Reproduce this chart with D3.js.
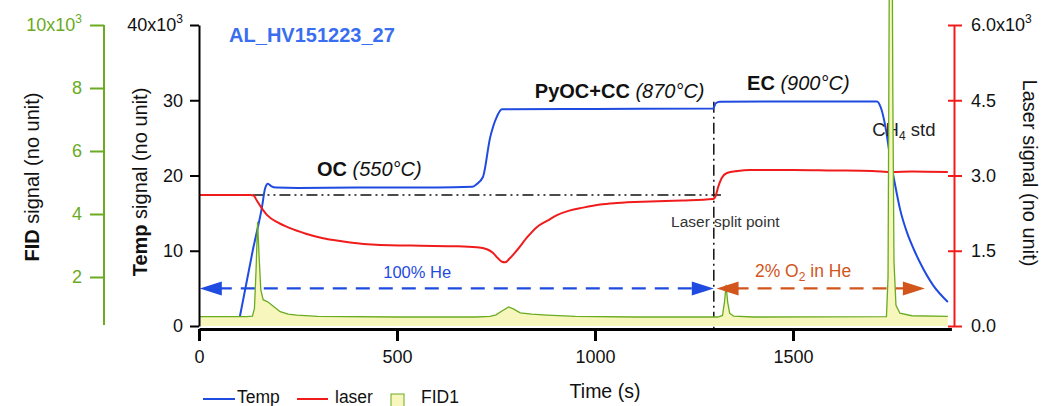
<!DOCTYPE html>
<html>
<head>
<meta charset="utf-8">
<script src="https://cdn.jsdelivr.net/npm/d3@7/dist/d3.min.js"></script>
<style>
  body { margin: 0; background: #fff; }
  svg { font-family: "Liberation Sans", Arial, sans-serif; }
</style>
</head>
<body>
<div id="chart"></div>
<script>
// time (s), value in thousands
let temp = [[103,1.2],[136,10.1],[159,15.8],[167,18.3],[174,18.9],[182,18.6],[195,18.4],[250,18.35],[400,18.4],[600,18.4],[690,18.5],[700,18.8],[717,19.8],[735,25],[752,27.8],[765,28.8],[1000,28.85],[1298,28.9],[1305,29.6],[1315,29.8],[1500,29.85],[1712,29.85],[1722,29.0],[1735,26.0],[1745,22.5],[1758,18.7],[1770,15.6],[1788,12.4],[1805,10.2],[1821,8.4],[1854,5.4],[1891,3.2]];
let laser = [[0,2.61],[130,2.61],[138,2.6],[146,2.5],[160,2.33],[172,2.21],[200,2.06],[230,1.95],[270,1.84],[313,1.75],[360,1.69],[399,1.65],[482,1.61],[560,1.6],[652,1.59],[700,1.57],[727,1.53],[742,1.46],[755,1.35],[765,1.28],[773,1.27],[785,1.35],[803,1.51],[830,1.78],[853,1.97],[880,2.1],[904,2.21],[935,2.3],[970,2.36],[1013,2.42],[1055,2.45],[1139,2.48],[1220,2.5],[1298,2.53],[1305,2.6],[1311,2.77],[1320,2.95],[1333,3.05],[1360,3.09],[1391,3.11],[1500,3.11],[1600,3.1],[1700,3.09],[1750,3.07],[1800,3.08],[1891,3.07]];
let fid = [[0,0.74],[120,0.74],[135,0.76],[140,1.0],[144,2.2],[148,3.75],[152,2.6],[156,1.6],[162,1.28],[175,1.2],[190,1.05],[205,0.9],[225,0.82],[247,0.79],[300,0.75],[500,0.73],[700,0.73],[735,0.75],[750,0.8],[765,0.92],[782,1.05],[795,0.98],[811,0.86],[840,0.82],[879,0.79],[950,0.75],[1100,0.73],[1310,0.73],[1322,0.78],[1327,1.2],[1331,1.75],[1335,1.2],[1340,0.85],[1350,0.76],[1400,0.73],[1736,0.74],[1740,2],[1742,8],[1744,14],[1750,14],[1752,8],[1755,2.5],[1760,1.1],[1770,0.85],[1800,0.77],[1891,0.75]];

let tempTicks = [0,10,20,30,40];
let laserTicks = [0,1.5,3,4.5,6];
let fidTicks = [2,4,6,8,10];
let timeTicks = [0,500,1000,1500];
let splitTime = 1300;
let splitLaser = 2.61;

let w = 1048, h = 406;
let svg = d3.select("#chart").append("svg").attr("width", w).attr("height", h);

let x = d3.scaleLinear().domain([0,1900]).range([199,951.4]);
let yT = d3.scaleLinear().domain([0,40]).range([326,25]);
let yL = d3.scaleLinear().domain([0,6]).range([326,25]);
let yF = d3.scaleLinear().domain([0,10]).range([340,25]);

let blue = "#1f4be0", red = "#f01c1c", green = "#6aab22", orange = "#d2561c";

// dash-dot guide lines
svg.append("line")
   .attr("x1", x(135)).attr("x2", x(1318)).attr("y1", yL(splitLaser)).attr("y2", yL(splitLaser))
   .attr("stroke","#111").attr("stroke-width",1.5).attr("stroke-dasharray","11,4,2,4,2,4");
svg.append("line")
   .attr("x1", x(splitTime)).attr("x2", x(splitTime)).attr("y1", yT(29.8)).attr("y2", 330)
   .attr("stroke","#111").attr("stroke-width",1.5).attr("stroke-dasharray","11,4,2,4");

// series
let line = (ys) => d3.line().curve(d3.curveMonotoneX).x(d => x(d[0])).y(d => ys(d[1]));
svg.append("path").datum(temp).attr("d", line(yT)).attr("fill","none").attr("stroke",blue).attr("stroke-width",2);
svg.append("path").datum(laser).attr("d", line(yL)).attr("fill","none").attr("stroke",red).attr("stroke-width",2);

// CH4 label sits under the FID peak
let ch4 = svg.append("text").attr("x", x(1700)).attr("y", yT(25.2)).attr("font-size",18.5).attr("fill","#222");
ch4.append("tspan").text("CH");
ch4.append("tspan").attr("font-size",12).attr("dy",4).text("4");
ch4.append("tspan").attr("dy",-4).text(" std");

let area = d3.area().x(d => x(d[0])).y0(yT(0)).y1(d => yF(d[1]));
svg.append("path").datum(fid).attr("d", area).attr("fill","#f7f7bd").attr("stroke","none");
svg.append("path").datum(fid).attr("d", d3.line().x(d => x(d[0])).y(d => yF(d[1]))).attr("fill","none").attr("stroke",green).attr("stroke-width",1.3);

// gas arrows
function arrow(t0, t1, v, col){
  let y = yT(v);
  svg.append("line").attr("x1", x(t0)+18).attr("x2", x(t1)-18).attr("y1", y).attr("y2", y)
     .attr("stroke", col).attr("stroke-width",2.2).attr("stroke-dasharray","14,9");
  let a = x(t0), b = x(t1);
  svg.append("path").attr("d", `M${a},${y}L${a+22},${y-7}L${a+22},${y+7}Z`).attr("fill", col);
  svg.append("path").attr("d", `M${b},${y}L${b-22},${y-7}L${b-22},${y+7}Z`).attr("fill", col);
}
arrow(2, 1300, 5.0, blue);
arrow(1307, 1833, 5.0, orange);

// axes
let ax = svg.append("g").attr("transform","translate(0,329)")
   .call(d3.axisBottom(x).tickValues(timeTicks).tickSize(12).tickSizeOuter(0).tickPadding(9).tickFormat(d3.format("d")));
ax.select(".domain").attr("stroke-width",3);
ax.selectAll(".tick line").attr("stroke-width",3);
ax.selectAll("text").attr("font-size",18).attr("fill","#111");

function sup(sel, base){
  sel.text(null);
  sel.append("tspan").text(base);
  sel.append("tspan").attr("font-size",12).attr("dy",-8).text("3");
}

let at = svg.append("g").attr("transform","translate(199,0)")
   .call(d3.axisLeft(yT).tickValues(tempTicks).tickSize(9).tickSizeOuter(0).tickPadding(7));
at.select(".domain").attr("stroke-width",2);
at.selectAll(".tick line").attr("stroke-width",2);
at.selectAll("text").attr("font-size",18).attr("fill","#111");
at.selectAll(".tick text").filter(d => d === 40).call(sup, "40x10");

let al = svg.append("g").attr("transform","translate(954,0)")
   .call(d3.axisRight(yL).tickValues(laserTicks).tickSize(8).tickSizeOuter(0).tickPadding(9).tickFormat(d3.format(".1f")));
al.select(".domain").attr("stroke",red).attr("stroke-width",2);
al.selectAll(".tick line").attr("stroke",red).attr("stroke-width",2).attr("x1",-6);
al.selectAll("text").attr("font-size",18).attr("fill","#111");
al.selectAll(".tick text").filter(d => d === 6).call(sup, "6.0x10");

let af = svg.append("g").attr("transform","translate(104,0)")
   .call(d3.axisLeft(yF).tickValues(fidTicks).tickSize(14).tickSizeOuter(0).tickPadding(8));
af.select(".domain").attr("stroke",green).attr("stroke-width",2).attr("d","M0,25V325");
af.selectAll(".tick line").attr("stroke",green).attr("stroke-width",2);
af.selectAll("text").attr("font-size",18).attr("fill",green);
af.selectAll(".tick text").filter(d => d === 10).call(sup, "10x10");

// axis titles
function ytitle(xp, yp, rot, bold, rest){
  let t = svg.append("text").attr("transform",`translate(${xp},${yp}) rotate(${rot})`)
     .attr("text-anchor","middle").attr("font-size",20).attr("fill","#111");
  if (bold) t.append("tspan").attr("font-weight","bold").text(bold);
  t.append("tspan").text(rest);
}
ytitle(39, 177, -90, "FID", " signal (no unit)");
ytitle(147, 182, -90, "Temp", " signal (no unit)");
ytitle(1023, 173, 90, null, "Laser signal (no unit)");
svg.append("text").attr("x",605).attr("y",398).attr("text-anchor","middle").attr("font-size",19.5).attr("fill","#111").text("Time (s)");

// annotations
svg.append("text").attr("x", x(76)).attr("y", yT(37.8)).attr("font-size",20).attr("font-weight","bold").attr("fill","#3a6ef0").text("AL_HV151223_27");
function phase(t, v, name, temp){
  let s = svg.append("text").attr("x", x(t)).attr("y", yT(v)).attr("font-size",20).attr("fill","#111");
  s.append("tspan").attr("font-weight","bold").text(name + " ");
  s.append("tspan").attr("font-style","italic").text(temp);
}
phase(298, 19.9, "OC", "(550°C)");
phase(848, 30.3, "PyOC+CC", "(870°C)");
phase(1384, 31.3, "EC", "(900°C)");
svg.append("text").attr("x", x(1192)).attr("y", yT(13.1)).attr("font-size",15.5).attr("fill","#333").text("Laser  split point");
svg.append("text").attr("x", x(551)).attr("y", yT(6.4)).attr("text-anchor","middle").attr("font-size",16.5).attr("fill",blue).text("100% He");
let o2 = svg.append("text").attr("x", x(1404)).attr("y", yT(6.5)).attr("font-size",17.5).attr("fill",orange);
o2.append("tspan").text("2% O");
o2.append("tspan").attr("font-size",12).attr("dy",4).text("2");
o2.append("tspan").attr("dy",-4).text(" in He");

// legend
let lg = svg.append("g");
lg.append("line").attr("x1",203).attr("x2",235).attr("y1",399).attr("y2",399).attr("stroke",blue).attr("stroke-width",2);
lg.append("text").attr("x",237).attr("y",403).attr("font-size",17.5).attr("fill","#111").text("Temp");
lg.append("line").attr("x1",297).attr("x2",328).attr("y1",399).attr("y2",399).attr("stroke",red).attr("stroke-width",2);
lg.append("text").attr("x",335).attr("y",403).attr("font-size",17.5).attr("fill","#111").text("laser");
lg.append("rect").attr("x",391).attr("y",394).attr("width",13).attr("height",13).attr("fill","#f7f7bd").attr("stroke",green);
lg.append("text").attr("x",421).attr("y",403).attr("font-size",17.5).attr("fill","#111").text("FID1");
</script>
</body>
</html>
